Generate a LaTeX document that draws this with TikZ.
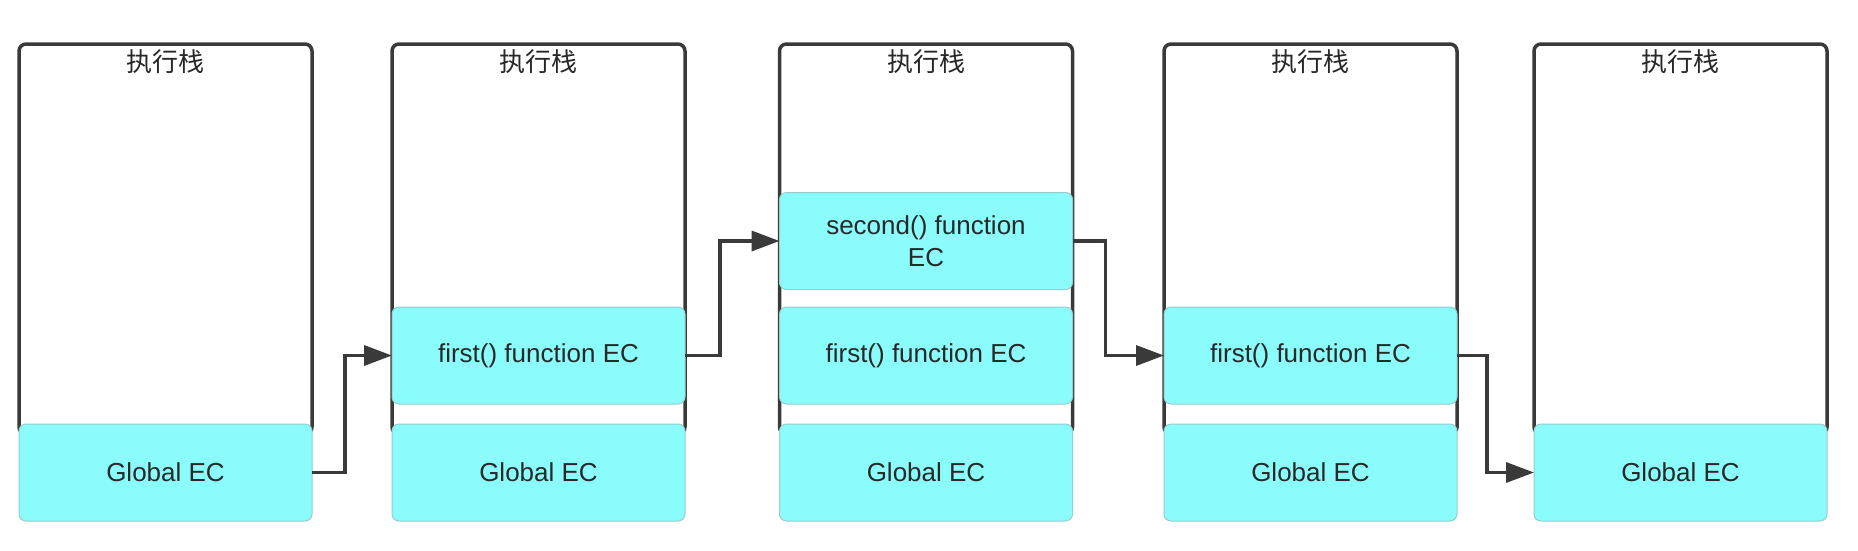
\documentclass[tikz,border=0pt]{standalone}
\usepackage{fontspec}
\setmainfont{Liberation Sans}
\newfontfamily\cjk{Noto Sans CJK SC}
\usetikzlibrary{arrows.meta}
\definecolor{ecFill}{RGB}{138,252,252}
\definecolor{ecLine}{RGB}{150,205,205}
\definecolor{stLine}{RGB}{58,58,58}
\definecolor{txtCol}{RGB}{40,40,40}

\begin{document}
\begin{tikzpicture}[x=1pt,y=-1pt,font=\fontsize{26}{32}\selectfont,text=txtCol,
  stk/.style={draw=stLine,line width=3.5pt,rounded corners=7pt,minimum width=293pt,minimum height=390pt,inner sep=0pt,outer sep=0pt},
  ttl/.style={font=\cjk\fontsize{26}{30}\selectfont},
  ec/.style={draw=ecLine,fill=ecFill,line width=1pt,rounded corners=7pt,minimum width=293pt,minimum height=97pt,align=center,inner sep=0pt,outer sep=0pt},
  fl/.style={-{Triangle[length=28pt,width=20pt]},line width=3.5pt,stLine}]
\useasboundingbox (0,0) rectangle (1858,550);
% the five stacks
\node[stk] (s1) at (165.5,239) {};
\node[stk] (s2) at (538.5,239) {};
\node[stk] (s3) at (926,239) {};
\node[stk] (s4) at (1310.5,239) {};
\node[stk] (s5) at (1680.5,239) {};
\node[ttl] (t1) at (165.5,62) {执行栈};
\node[ttl] (t2) at (538.5,62) {执行栈};
\node[ttl] (t3) at (926,62) {执行栈};
\node[ttl] (t4) at (1310.5,62) {执行栈};
\node[ttl] (t5) at (1680.5,62) {执行栈};
% execution contexts
\node[ec] (g1) at (165.5,472.5) {Global EC};
\node[ec] (g2) at (538.5,472.5) {Global EC};
\node[ec] (g3) at (926,472.5) {Global EC};
\node[ec] (g4) at (1310.5,472.5) {Global EC};
\node[ec] (g5) at (1680.5,472.5) {Global EC};
\node[ec] (f2) at (538.5,355.5) {first() function EC};
\node[ec] (f3) at (926,355.5) {first() function EC};
\node[ec] (f4) at (1310.5,355.5) {first() function EC};
\node[ec] (sc3) at (926,241) {second() function\\EC};
% transitions
\draw[fl] (g1.east) -- ++(33,0) |- (f2.west);
\draw[fl] (f2.east) -- ++(35,0) |- (sc3.west);
\draw[fl] (sc3.east) -- ++(33,0) |- (f4.west);
\draw[fl] (f4.east) -- ++(30,0) |- (g5.west);
\end{tikzpicture}
\end{document}
